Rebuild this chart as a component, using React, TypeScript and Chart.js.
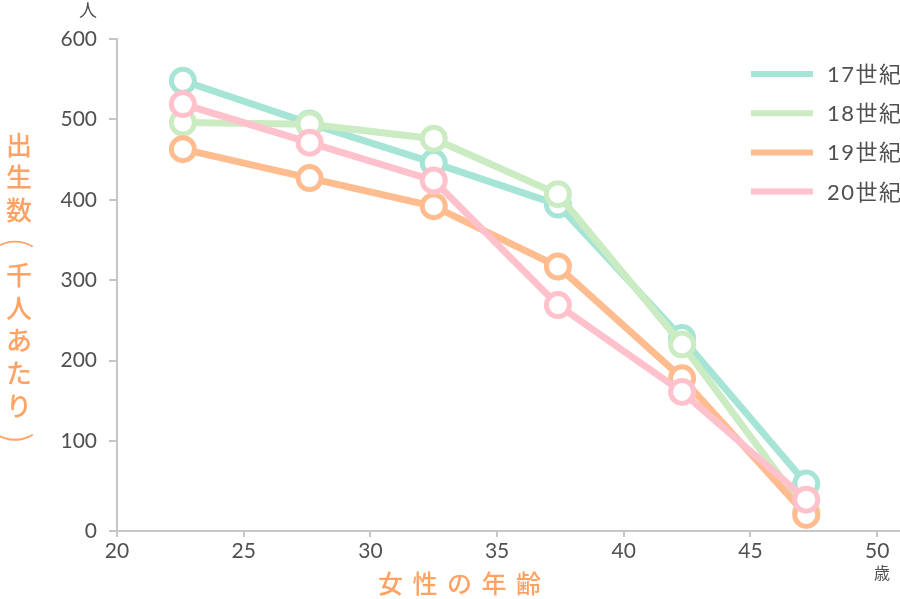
import React, { useEffect, useRef } from 'react';
import { Chart, registerables } from 'chart.js';

Chart.register(...registerables);

// ---- data ----
const ageValues = [22.6, 27.6, 32.5, 37.4, 42.3, 47.2];
const seriesNames = ['17世紀', '18世紀', '19世紀', '20世紀'];
const births17 = [548, 495, 446, 394, 228, 47];
const births18 = [496, 494, 476, 407, 220, 12];
const births19 = [463, 427, 392, 317, 178, 8];
const births20 = [519, 471, 424, 269, 161, 27];
const seriesColors = ['#a6e4d6', '#cbebc3', '#ffbc8e', '#ffc1cc'];
const xTickValues = [20, 25, 30, 35, 40, 45, 50];
const yTickValues = [0, 100, 200, 300, 400, 500, 600];
const yAxisTitle = '出生数（千人あたり）';
const xAxisTitle = '女性の年齢';
const yUnit = '人';
const xUnit = '歳';

const Y_FLOOR = -12; // the axis baseline sits a little below the 0 value
const X_MAX = 50.9;

const TICK_COLOR = '#505050';
const AXIS_COLOR = '#c6c6c6';
const TITLE_COLOR = '#ffa263';
const NUM_FONT = 'Lato, "Noto Sans CJK JP", sans-serif';
const CJK_FONT = '"Noto Sans CJK JP", Lato, sans-serif';

const textPlugin = {
  id: 'extraText',
  afterDraw(chart: any) {
    const ctx = chart.ctx as CanvasRenderingContext2D;
    const area = chart.chartArea;
    ctx.save();

    // legend
    const sets = chart.data.datasets;
    for (let i = 0; i < sets.length; i++) {
      const y = 74 + i * 39.2;
      ctx.strokeStyle = sets[i].borderColor;
      ctx.lineWidth = 6;
      ctx.lineCap = 'butt';
      ctx.beginPath();
      ctx.moveTo(751, y);
      ctx.lineTo(813, y);
      ctx.stroke();
      ctx.fillStyle = TICK_COLOR;
      ctx.font = '22px ' + NUM_FONT;
      (ctx as any).letterSpacing = '1.5px';
      ctx.textAlign = 'left';
      ctx.textBaseline = 'middle';
      ctx.fillText(sets[i].label, 827, y + 1);
    }
    (ctx as any).letterSpacing = '0px';

    // unit labels
    ctx.fillStyle = TICK_COLOR;
    ctx.textAlign = 'center';
    ctx.textBaseline = 'middle';
    ctx.font = '18px ' + CJK_FONT;
    ctx.fillText(yUnit, 88, area.top - 29);
    ctx.font = '16px ' + CJK_FONT;
    ctx.fillText(xUnit, 882, area.bottom + 42);

    // y title (vertical)
    ctx.fillStyle = TITLE_COLOR;
    ctx.font = '500 26px ' + CJK_FONT;
    const chars = Array.from(yAxisTitle);
    chars.forEach((ch, i) => {
      const y = 145 + i * 32.6;
      if (ch === '（' || ch === '）') {
        ctx.save();
        ctx.translate(18, y);
        ctx.rotate(Math.PI / 2);
        ctx.font = '300 36px ' + CJK_FONT;
        ctx.fillText(ch === '（' ? '(' : ')', 0, 0);
        ctx.restore();
      } else {
        ctx.fillText(ch, 19, y);
      }
    });

    // x title
    const xc = Array.from(xAxisTitle);
    ctx.font = '500 25px ' + CJK_FONT;
    xc.forEach((ch, i) => {
      ctx.fillText(ch, 459.5 + (i - (xc.length - 1) / 2) * 34.5, 583);
    });

    ctx.restore();
  },
};

export default function App() {
  const ref = useRef<HTMLCanvasElement | null>(null);

  useEffect(() => {
    if (!ref.current) return;
    const all = [births17, births18, births19, births20];
    const drawOrder = [3, 2, 1, 0];
    const datasets = all.map((vals, i) => ({
      label: seriesNames[i],
      data: vals.map((v, j) => ({ x: ageValues[j], y: v })),
      borderColor: seriesColors[i],
      backgroundColor: '#ffffff',
      pointBackgroundColor: '#ffffff',
      pointBorderColor: seriesColors[i],
      pointBorderWidth: 5,
      pointRadius: 11.5,
      pointHoverRadius: 11.5,
      borderWidth: 7,
      tension: 0,
      clip: false as any,
      order: drawOrder[i],
    }));

    const chart = new Chart(ref.current, {
      type: 'line',
      data: { datasets },
      options: {
        animation: false,
        responsive: false,
        layout: { autoPadding: false, padding: { top: 39, left: 0, right: 0, bottom: 0 } },
        plugins: {
          legend: { display: false },
          tooltip: { enabled: false },
        },
        scales: {
          x: {
            type: 'linear',
            min: 20,
            max: X_MAX,
            afterBuildTicks: (scale: any) => {
              scale.ticks = xTickValues.map((v) => ({ value: v }));
            },
            afterFit: (scale: any) => {
              scale.height = 68;
              scale.paddingLeft = 0;
              scale.paddingRight = 0;
            },
            grid: {
              drawOnChartArea: false,
              drawTicks: true,
              tickLength: 6,
              color: AXIS_COLOR,
              lineWidth: 2,
            },
            border: { color: AXIS_COLOR, width: 2 },
            ticks: {
              color: TICK_COLOR,
              font: { family: NUM_FONT, size: 21 },
              padding: 2,
              maxRotation: 0,
              callback: (v: any) => String(v),
            },
          },
          y: {
            type: 'linear',
            min: Y_FLOOR,
            max: 600,
            afterBuildTicks: (scale: any) => {
              scale.ticks = yTickValues.map((v) => ({ value: v === 0 ? Y_FLOOR : v }));
            },
            afterFit: (scale: any) => {
              scale.width = 117;
              scale.paddingTop = 0;
              scale.paddingBottom = 0;
            },
            grid: {
              drawOnChartArea: false,
              drawTicks: true,
              tickLength: 8,
              color: AXIS_COLOR,
              lineWidth: 2,
            },
            border: { color: AXIS_COLOR, width: 2 },
            ticks: {
              color: TICK_COLOR,
              font: { family: NUM_FONT, size: 21 },
              padding: 12,
              callback: (v: any) => (v === Y_FLOOR ? '0' : String(v)),
            },
          },
        },
      },
      plugins: [textPlugin],
    });
    return () => chart.destroy();
  }, []);

  return (
    <div style={{ position: 'absolute', left: 0, top: 0, width: 900, height: 599, background: '#fff' }}>
      <canvas ref={ref} width={900} height={599} />
    </div>
  );
}
